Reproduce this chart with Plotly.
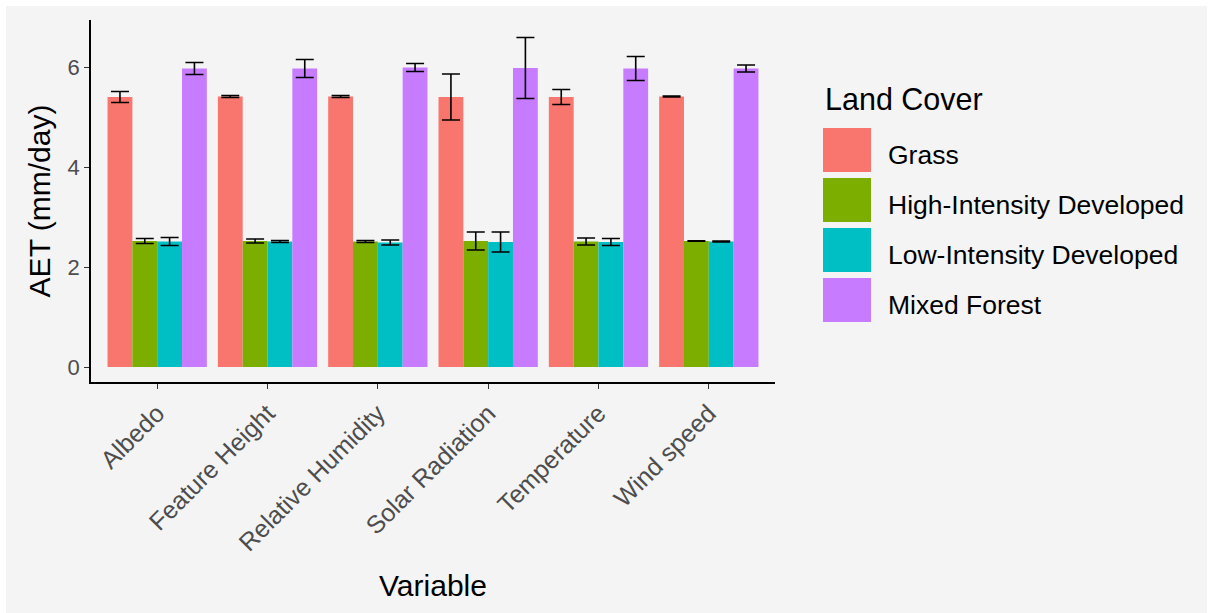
import plotly.graph_objects as go

variables = ["Albedo", "Feature Height", "Relative Humidity", "Solar Radiation", "Temperature", "Wind speed"]
land_covers = ["Grass", "High-Intensity Developed", "Low-Intensity Developed", "Mixed Forest"]
colors = ["#F8766D", "#7CAE00", "#00BFC4", "#C77CFF"]

grass_mean = [5.40, 5.41, 5.41, 5.40, 5.40, 5.41]
grass_se = [0.11, 0.02, 0.02, 0.46, 0.15, 0.01]
hid_mean = [2.52, 2.52, 2.51, 2.52, 2.51, 2.52]
hid_se = [0.05, 0.04, 0.02, 0.18, 0.07, 0.005]
lid_mean = [2.51, 2.51, 2.49, 2.50, 2.50, 2.51]
lid_se = [0.08, 0.02, 0.05, 0.20, 0.07, 0.01]
mf_mean = [5.97, 5.97, 5.99, 5.98, 5.97, 5.97]
mf_se = [0.12, 0.18, 0.08, 0.61, 0.24, 0.07]

means = [grass_mean, hid_mean, lid_mean, mf_mean]
ses = [grass_se, hid_se, lid_se, mf_se]

FONT = "Liberation Sans, Arial, sans-serif"
W, H = 1209, 613
L, R, T, B = 91, 775, 20, 382  # plot area pixel box

def px(x):
    return (x - L) / (R - L)

def py(y):
    return (B - y) / (B - T)

fig = go.Figure()
for name, col, m, s in zip(land_covers, colors, means, ses):
    fig.add_trace(go.Bar(
        x=variables, y=m, name=name, marker=dict(color=col, line=dict(width=0)),
        error_y=dict(type="data", array=s, visible=True, color="black", thickness=1.6, width=9),
        showlegend=False,
    ))

shapes = [dict(type="rect", xref="paper", yref="paper", x0=px(6), x1=px(1207), y0=py(613), y1=py(6),
               fillcolor="#f4f4f4", line=dict(width=0), layer="below")]
annotations = [dict(text="Land Cover", xref="paper", yref="paper", x=px(823), y=py(99),
                    xanchor="left", yanchor="middle", showarrow=False,
                    font=dict(family=FONT, size=30.5, color="black"))]
tops = [128, 178, 228, 278]
for name, col, t in zip(land_covers, colors, tops):
    shapes.append(dict(type="rect", xref="paper", yref="paper", x0=px(823), x1=px(871),
                       y0=py(t + 44), y1=py(t), fillcolor=col, line=dict(width=0)))
    annotations.append(dict(text=name, xref="paper", yref="paper", x=px(886), y=py(t + 27),
                            xanchor="left", yanchor="middle", showarrow=False,
                            font=dict(family=FONT, size=26.5, color="black")))

fig.update_layout(
    width=W, height=H,
    margin=dict(l=L, r=W - R, t=T, b=H - B, pad=0),
    paper_bgcolor="white", plot_bgcolor="rgba(0,0,0,0)",
    barmode="group", bargap=0.1, bargroupgap=0,
    font=dict(family=FONT),
    shapes=shapes, annotations=annotations,
    xaxis=dict(range=[-0.6, 5.6], showline=True, linecolor="black", linewidth=1.6,
               ticks="outside", ticklen=5, tickcolor="#333333", tickwidth=1.3,
               tickangle=-45, tickfont=dict(family=FONT, size=25, color="#4d4d4d"),
               showgrid=False, zeroline=False, automargin=False,
               title=dict(text="Variable", font=dict(family=FONT, size=30, color="black"), standoff=20)),
    yaxis=dict(range=[-0.3, 6.94], showline=True, linecolor="black", linewidth=1.6,
               ticks="outside", ticklen=5, tickcolor="#333333", tickwidth=1.3,
               tickvals=[0, 2, 4, 6], tickfont=dict(family=FONT, size=22, color="#4d4d4d"),
               showgrid=False, zeroline=False, automargin=False,
               title=dict(text="AET (mm/day)", font=dict(family=FONT, size=30, color="black"), standoff=8)),
)

fig.write_html("out.html")
